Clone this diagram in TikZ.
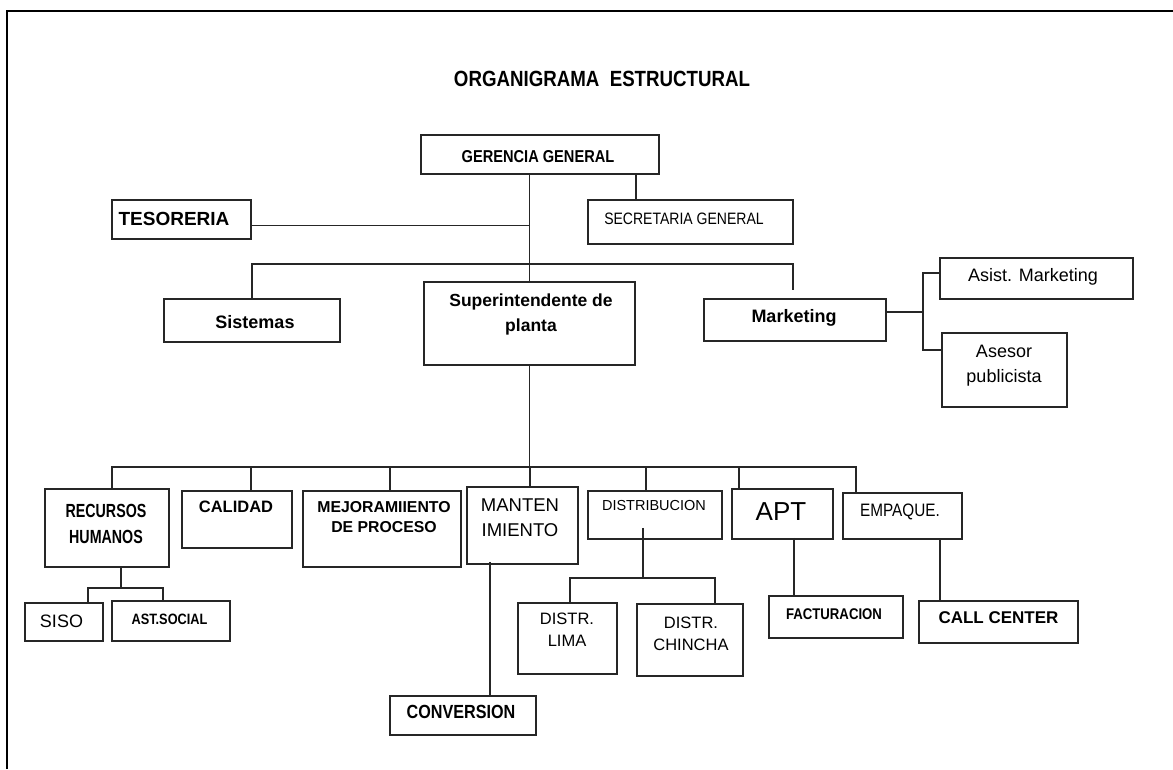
\documentclass[tikz,border=0pt]{standalone}
\usepackage{fontspec}
\setmainfont{Liberation Sans}
\newfontfamily\nar[FakeStretch=0.85]{Liberation Sans}
\newfontfamily\narr[FakeStretch=0.75]{Liberation Sans}
\usetikzlibrary{calc}
\tikzset{
  box/.style={draw=black!85, line width=1.6pt, inner sep=0pt},
  ln/.style={draw=black!85, line width=1.4pt},
  txt/.style={align=center, inner sep=0pt, text=black},
}
\newcommand{\fs}[2]{\fontsize{#1}{#2}\selectfont}
\begin{document}
\begin{tikzpicture}[x=1pt,y=-1pt]
\useasboundingbox (0,0) rectangle (1173,769);
\draw[line width=2.4pt] (7,769) -- (7,11) -- (1173,11);

% title
\node[txt, font={\nar\bfseries\fs{22}{26}}] (title) at (602,78.5) {ORGANIGRAMA\ \ ESTRUCTURAL};

% boxes
\node[box, minimum width=238pt, minimum height=39pt] (gg)   at (540,154.5) {};
\node[box, minimum width=139pt, minimum height=39pt] (tes)  at (181.5,219.5) {};
\node[box, minimum width=205pt, minimum height=44pt] (sg)   at (690.5,222) {};
\node[box, minimum width=176pt, minimum height=43pt] (sis)  at (252,320.5) {};
\node[box, minimum width=211pt, minimum height=83pt] (sup)  at (529.5,323.5) {};
\node[box, minimum width=182pt, minimum height=42pt] (mkt)  at (795,320) {};
\node[box, minimum width=193pt, minimum height=41pt] (asm)  at (1036.5,278.5) {};
\node[box, minimum width=125pt, minimum height=74pt] (asp)  at (1004.5,370) {};
\node[box, minimum width=124pt, minimum height=78pt] (rh)   at (107,528) {};
\node[box, minimum width=110pt, minimum height=57pt] (cal)  at (237,519.5) {};
\node[box, minimum width=158pt, minimum height=76pt] (mej)  at (382,529) {};
\node[box, minimum width=111pt, minimum height=77pt] (man)  at (522.5,525.5) {};
\node[box, minimum width=134pt, minimum height=48pt] (dis)  at (655,515) {};
\node[box, minimum width=101pt, minimum height=50pt] (apt)  at (782.5,514) {};
\node[box, minimum width=119pt, minimum height=46pt] (emp)  at (902.5,516) {};
\node[box, minimum width=78pt,  minimum height=38pt] (siso) at (64,622) {};
\node[box, minimum width=118pt, minimum height=40pt] (ast)  at (171,621) {};
\node[box, minimum width=146pt, minimum height=39pt] (conv) at (463,715.5) {};
\node[box, minimum width=99pt,  minimum height=71pt] (lima) at (567.5,638.5) {};
\node[box, minimum width=106pt, minimum height=72pt] (chin) at (690,640) {};
\node[box, minimum width=134pt, minimum height=42pt] (fac)  at (836,617) {};
\node[box, minimum width=159pt, minimum height=42pt] (cc)   at (998.5,622) {};

% texts
\node[txt, font={\nar\bfseries\fs{17.2}{20}}] (gg-t) at (538,157) {GERENCIA GENERAL};
\node[txt, font={\bfseries\fs{19}{22}}] (tes-t) at (174,219) {TESORERIA};
\node[txt, font={\nar\fs{16.5}{19}}] (sg-t) at (684,219) {SECRETARIA GENERAL};
\node[txt, font={\bfseries\fs{18}{22}}] (sis-t) at (255,322) {Sistemas};
\node[txt, font={\bfseries\fs{17.5}{25}}] (sup-t) at (531,314) {Superintendente de\\planta};
\node[txt, font={\bfseries\fs{18}{22}}] (mkt-t) at (794,318) {Marketing};
\node[txt, font={\fs{18}{22}}] (asm-t) at (1033,277) {Asist. Marketing};
\node[txt, font={\fs{18}{25}}] (asp-t) at (1004,366) {Asesor\\publicista};
\node[txt, font={\narr\bfseries\fs{19}{26}}] (rh-t) at (106,524) {RECURSOS\\HUMANOS};
\node[txt, font={\bfseries\fs{16.5}{20}}] (cal-t) at (236,507) {CALIDAD};
\node[txt, font={\bfseries\fs{15.8}{20}}] (mej-t) at (384,517) {MEJORAMIIENTO\\DE PROCESO};
\node[txt, font={\fs{18.5}{25}}] (man-t) at (520,517.5) {MANTEN\\IMIENTO};
\node[txt, font={\fs{14.5}{18}}] (dis-t) at (654,505) {DISTRIBUCION};
\node[txt, font={\fs{26}{30}}] (apt-t) at (781,512) {APT};
\node[txt, font={\nar\fs{18}{22}}] (emp-t) at (900,512) {EMPAQUE.};
\node[txt, font={\fs{18}{22}}] (siso-t) at (61.5,621) {SISO};
\node[txt, font={\nar\bfseries\fs{15}{18}}] (ast-t) at (169.5,619) {AST.SOCIAL};
\node[txt, font={\nar\bfseries\fs{19}{22}}] (conv-t) at (461,712) {CONVERSION};
\node[txt, font={\fs{16.5}{22}}] (lima-t) at (567,630) {DISTR.\\LIMA};
\node[txt, font={\fs{16.5}{22}}] (chin-t) at (691,634) {DISTR.\\CHINCHA};
\node[txt, font={\nar\bfseries\fs{15.5}{19}}] (fac-t) at (834,614) {FACTURACION};
\node[txt, font={\bfseries\fs{17}{21}}] (cc-t) at (998.5,618) {CALL CENTER};

% helper coordinates
\coordinate (bus1) at (529.5,264);
\coordinate (bus2) at (529.5,467);
\coordinate (mj) at (923,312);
\coordinate (rhj) at (121,588);
\coordinate (disj) at (643,578);

% top level
\draw[ln] (sup.north |- gg.south) -- (sup.north);
\draw[ln] ([yshift=-6pt]tes.east) -- ([yshift=-6pt]tes.east -| sup.north);
\path (sg.north) ++(-54.5,0) coordinate (sgt);
\draw[ln] (sgt) -- (sgt |- gg.south);
\path (mkt.north) ++(-2,-8) coordinate (mktt);
\draw[ln] (sis.north) |- (bus1) -| (mktt);

% marketing
\draw[ln] ([yshift=8pt]mkt.east) -- (mj);
\draw[ln] ([yshift=5.5pt]asm.west) -| (mj) |- ([yshift=20pt]asp.west);

% second level bus
\draw[ln] (sup.south) -- (bus2);
\path (rh.north)  ++(5,0)     coordinate (rhT);
\path (cal.north) ++(14,0)    coordinate (calT);
\path (mej.north) ++(8,0)     coordinate (mejT);
\path (man.north) ++(7,0)     coordinate (manT);
\path (dis.north) ++(-9,0)    coordinate (disT);
\path (apt.north) ++(-43.5,0) coordinate (aptT);
\path (emp.north) ++(-46.5,0) coordinate (empT);
\draw[ln] (rhT) |- (bus2) -| (empT);
\draw[ln] (calT) -- (calT |- bus2);
\draw[ln] (mejT) -- (mejT |- bus2);
\draw[ln, line width=2pt] (manT) -- (manT |- bus2);
\draw[ln] (disT) -- (disT |- bus2);
\draw[ln] (aptT) -- (aptT |- bus2);

% recursos humanos
\path (rh.south) ++(14,0) coordinate (rhB);
\path (siso.north) ++(24,0) coordinate (sisoT);
\path (ast.north) ++(-8,0) coordinate (astT);
\draw[ln] (rhB) -- (rhj);
\draw[ln] (sisoT) |- (rhj) -| (astT);

% mantenimiento
\path (man.south) ++(-32.5,-3) coordinate (manB);
\draw[ln] (manB) -- (manB |- conv.north);

% distribucion
\path (dis.south) ++(-12,-12) coordinate (disB);
\path (lima.north) ++(2.5,0) coordinate (limaT);
\path (chin.north) ++(25,0) coordinate (chinT);
\draw[ln] (disB) -- (disj);
\draw[ln] (limaT) |- (disj) -| (chinT);

% apt / empaque
\path (apt.south) ++(11.5,-2) coordinate (aptB);
\draw[ln] (aptB) -- (aptB |- fac.north);
\path (emp.south) ++(37.5,0) coordinate (empB);
\draw[ln] (empB) -- (empB |- cc.north);
\end{tikzpicture}
\end{document}
